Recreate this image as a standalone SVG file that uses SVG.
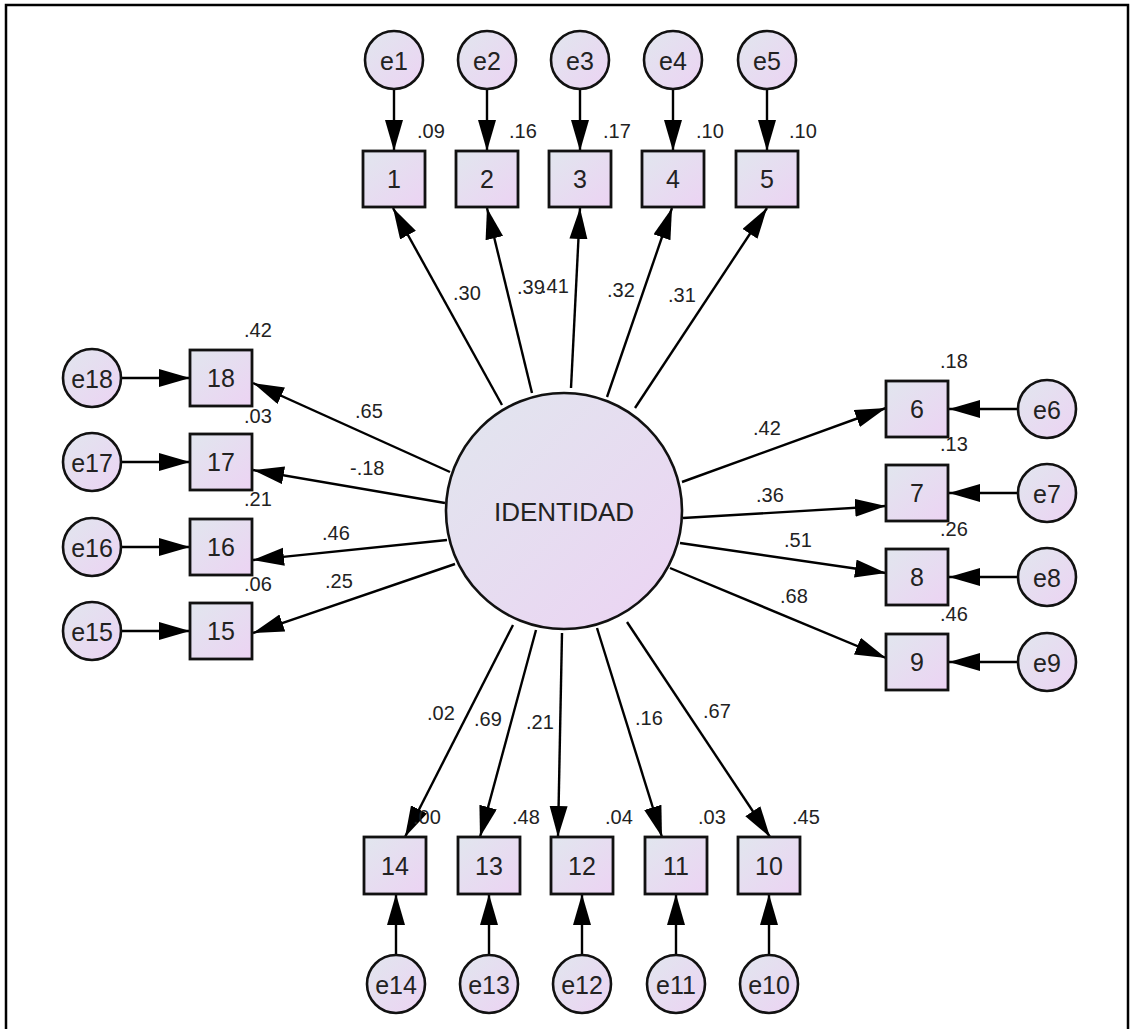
<svg xmlns="http://www.w3.org/2000/svg" width="1134" height="1029" viewBox="0 0 1134 1029">
<defs>
<linearGradient id="g" x1="0" y1="0" x2="1" y2="1">
<stop offset="0" stop-color="#e1e6ee"/>
<stop offset="1" stop-color="#ecd3f3"/>
</linearGradient>
<marker id="ah" markerUnits="userSpaceOnUse" markerWidth="32" markerHeight="20" refX="31" refY="9" orient="auto">
<path d="M0,0 L31,9 L0,18 Z" fill="#000"/>
</marker>
<style>
.box{fill:url(#g);stroke:#111;stroke-width:2.8}
.err{fill:url(#g);stroke:#111;stroke-width:2.6}
.lat{fill:url(#g);stroke:#111;stroke-width:2.6}
.num{font-family:"Liberation Sans",Arial,sans-serif;font-size:25px;fill:#222;text-anchor:middle;dominant-baseline:central}
.lbl{font-family:"Liberation Sans",Arial,sans-serif;font-size:20px;fill:#222}
.c line{stroke:#000;stroke-width:2.4;marker-end:url(#ah)}
</style>
</defs>
<rect x="0" y="0" width="1134" height="1029" fill="#fff"/>
<rect x="6" y="5" width="1122" height="1040" fill="none" stroke="#000" stroke-width="2.5"/>

<g id="connectors" class="c">
<line x1="394" y1="89" x2="394" y2="151"/>
<line x1="487" y1="89" x2="487" y2="151"/>
<line x1="580" y1="89" x2="580" y2="151"/>
<line x1="673" y1="89" x2="673" y2="151"/>
<line x1="767" y1="89" x2="767" y2="151"/>
<line x1="121" y1="378" x2="190" y2="378"/>
<line x1="121" y1="462" x2="190" y2="462"/>
<line x1="121" y1="547" x2="190" y2="547"/>
<line x1="121" y1="631" x2="190" y2="631"/>
<line x1="1018" y1="409" x2="949" y2="409"/>
<line x1="1018" y1="493" x2="949" y2="493"/>
<line x1="1018" y1="577" x2="949" y2="577"/>
<line x1="1018" y1="662" x2="949" y2="662"/>
<line x1="396" y1="955" x2="396" y2="894"/>
<line x1="489" y1="955" x2="489" y2="894"/>
<line x1="582" y1="955" x2="582" y2="894"/>
<line x1="676" y1="955" x2="676" y2="894"/>
<line x1="769" y1="955" x2="769" y2="894"/>
<line x1="502" y1="405" x2="393" y2="208"/>
<line x1="532" y1="393" x2="487" y2="208"/>
<line x1="571" y1="388" x2="580" y2="208"/>
<line x1="607" y1="397" x2="672" y2="208"/>
<line x1="635" y1="408" x2="767" y2="208"/>
<line x1="450" y1="472" x2="253" y2="383"/>
<line x1="445" y1="503" x2="253" y2="470"/>
<line x1="447" y1="540" x2="253" y2="560"/>
<line x1="455" y1="564" x2="253" y2="633"/>
<line x1="682" y1="482" x2="886" y2="408"/>
<line x1="683" y1="518" x2="886" y2="506"/>
<line x1="680" y1="543" x2="886" y2="573"/>
<line x1="670" y1="568" x2="886" y2="658"/>
<line x1="513" y1="625" x2="405" y2="837"/>
<line x1="536" y1="630" x2="480" y2="837"/>
<line x1="562" y1="633" x2="558" y2="837"/>
<line x1="597" y1="628" x2="662" y2="837"/>
<line x1="627" y1="622" x2="770" y2="837"/>
</g>

<g id="IDENTIDAD"><circle class="lat" cx="564" cy="511" r="118"/><text class="num" x="564" y="512" style="font-size:26px">IDENTIDAD</text></g>

<g id="v1"><rect class="box" x="363" y="151" width="62" height="56"/><text class="num" x="394" y="179">1</text></g>
<g id="v2"><rect class="box" x="456" y="151" width="62" height="56"/><text class="num" x="487" y="179">2</text></g>
<g id="v3"><rect class="box" x="549" y="151" width="62" height="56"/><text class="num" x="580" y="179">3</text></g>
<g id="v4"><rect class="box" x="642" y="151" width="62" height="56"/><text class="num" x="673" y="179">4</text></g>
<g id="v5"><rect class="box" x="736" y="151" width="62" height="56"/><text class="num" x="767" y="179">5</text></g>

<g id="v6"><rect class="box" x="886" y="381" width="62" height="56"/><text class="num" x="917" y="409">6</text></g>
<g id="v7"><rect class="box" x="886" y="465" width="62" height="56"/><text class="num" x="917" y="493">7</text></g>
<g id="v8"><rect class="box" x="886" y="549" width="62" height="56"/><text class="num" x="917" y="577">8</text></g>
<g id="v9"><rect class="box" x="886" y="634" width="62" height="56"/><text class="num" x="917" y="662">9</text></g>

<g id="v10"><rect class="box" x="738" y="837" width="62" height="57"/><text class="num" x="769" y="866">10</text></g>
<g id="v11"><rect class="box" x="645" y="837" width="62" height="57"/><text class="num" x="676" y="866">11</text></g>
<g id="v12"><rect class="box" x="551" y="837" width="62" height="57"/><text class="num" x="582" y="866">12</text></g>
<g id="v13"><rect class="box" x="458" y="837" width="62" height="57"/><text class="num" x="489" y="866">13</text></g>
<g id="v14"><rect class="box" x="364" y="837" width="62" height="57"/><text class="num" x="395" y="866">14</text></g>

<g id="v15"><rect class="box" x="190" y="603" width="62" height="56"/><text class="num" x="221" y="631">15</text></g>
<g id="v16"><rect class="box" x="190" y="519" width="62" height="56"/><text class="num" x="221" y="547">16</text></g>
<g id="v17"><rect class="box" x="190" y="434" width="62" height="56"/><text class="num" x="221" y="462">17</text></g>
<g id="v18"><rect class="box" x="190" y="350" width="62" height="56"/><text class="num" x="221" y="378">18</text></g>

<g id="e1"><circle class="err" cx="394" cy="60" r="29"/><text class="num" x="394" y="61">e1</text></g>
<g id="e2"><circle class="err" cx="487" cy="60" r="29"/><text class="num" x="487" y="61">e2</text></g>
<g id="e3"><circle class="err" cx="580" cy="60" r="29"/><text class="num" x="580" y="61">e3</text></g>
<g id="e4"><circle class="err" cx="673" cy="60" r="29"/><text class="num" x="673" y="61">e4</text></g>
<g id="e5"><circle class="err" cx="767" cy="60" r="29"/><text class="num" x="767" y="61">e5</text></g>
<g id="e6"><circle class="err" cx="1047" cy="409" r="29"/><text class="num" x="1047" y="410">e6</text></g>
<g id="e7"><circle class="err" cx="1047" cy="493" r="29"/><text class="num" x="1047" y="494">e7</text></g>
<g id="e8"><circle class="err" cx="1047" cy="577" r="29"/><text class="num" x="1047" y="578">e8</text></g>
<g id="e9"><circle class="err" cx="1047" cy="662" r="29"/><text class="num" x="1047" y="663">e9</text></g>
<g id="e10"><circle class="err" cx="769" cy="984" r="29"/><text class="num" x="769" y="985">e10</text></g>
<g id="e11"><circle class="err" cx="676" cy="984" r="29"/><text class="num" x="676" y="985">e11</text></g>
<g id="e12"><circle class="err" cx="582" cy="984" r="29"/><text class="num" x="582" y="985">e12</text></g>
<g id="e13"><circle class="err" cx="489" cy="984" r="29"/><text class="num" x="489" y="985">e13</text></g>
<g id="e14"><circle class="err" cx="396" cy="984" r="29"/><text class="num" x="396" y="985">e14</text></g>
<g id="e15"><circle class="err" cx="92" cy="631" r="29"/><text class="num" x="92" y="632">e15</text></g>
<g id="e16"><circle class="err" cx="92" cy="547" r="29"/><text class="num" x="92" y="548">e16</text></g>
<g id="e17"><circle class="err" cx="92" cy="462" r="29"/><text class="num" x="92" y="463">e17</text></g>
<g id="e18"><circle class="err" cx="92" cy="378" r="29"/><text class="num" x="92" y="379">e18</text></g>

<g id="labels" class="lbl">
<text x="417" y="138">.09</text>
<text x="509" y="138">.16</text>
<text x="603" y="138">.17</text>
<text x="696" y="138">.10</text>
<text x="789" y="138">.10</text>
<text x="940" y="368">.18</text>
<text x="940" y="451">.13</text>
<text x="940" y="536">.26</text>
<text x="940" y="621">.46</text>
<text x="413" y="824">.00</text>
<text x="512" y="824">.48</text>
<text x="605" y="824">.04</text>
<text x="698" y="824">.03</text>
<text x="792" y="824">.45</text>
<text x="244" y="337">.42</text>
<text x="244" y="423">.03</text>
<text x="244" y="506">.21</text>
<text x="244" y="591">.06</text>
<text x="453" y="300">.30</text>
<text x="517" y="294">.39</text>
<text x="541" y="293">.41</text>
<text x="607" y="297">.32</text>
<text x="668" y="302">.31</text>
<text x="355" y="418">.65</text>
<text x="350" y="475">-.18</text>
<text x="322" y="540">.46</text>
<text x="325" y="588">.25</text>
<text x="753" y="435">.42</text>
<text x="756" y="502">.36</text>
<text x="784" y="547">.51</text>
<text x="780" y="603">.68</text>
<text x="427" y="720">.02</text>
<text x="474" y="726">.69</text>
<text x="526" y="729">.21</text>
<text x="635" y="725">.16</text>
<text x="703" y="718">.67</text>
</g>
</svg>
